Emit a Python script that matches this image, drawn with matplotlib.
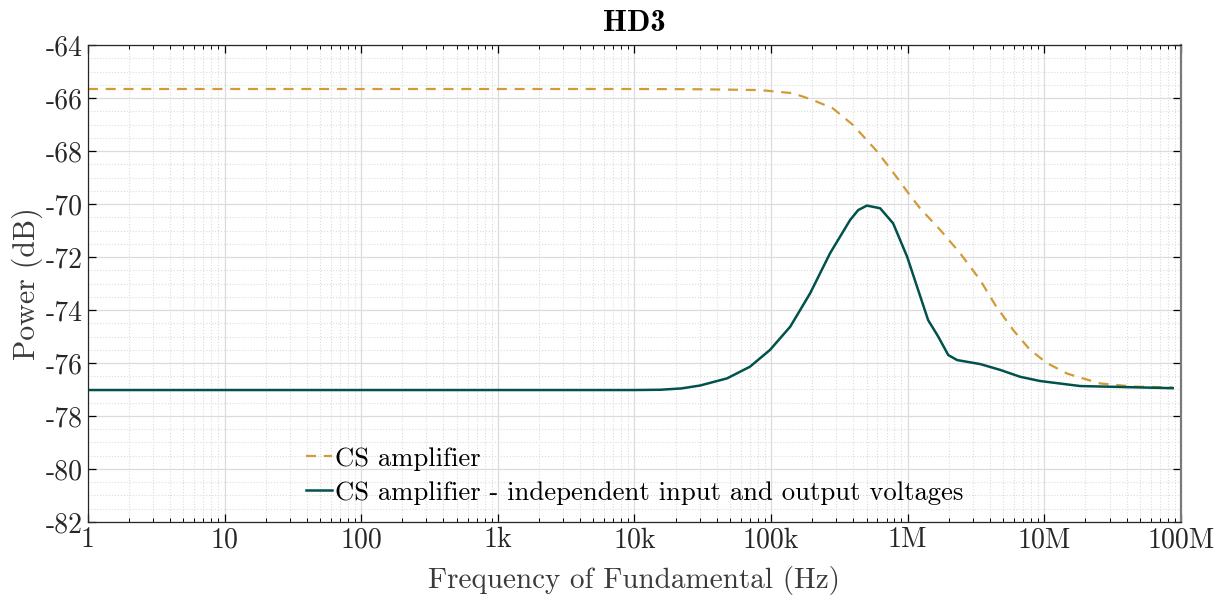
import matplotlib.pyplot as plt
from matplotlib.ticker import LogLocator, MultipleLocator, NullFormatter

plt.rcParams['font.family'] = ['cmr10', 'DejaVu Serif']
plt.rcParams['mathtext.fontset'] = 'cm'
plt.rcParams['axes.unicode_minus'] = False
plt.rcParams['axes.formatter.use_mathtext'] = True

# ==================== Data ====================
freq_cs = [1, 1e4, 3.0e4, 8.3e4, 1.45e5, 2.03e5, 2.83e5, 3.98e5, 6.0e5, 8.8e5, 1.0e6,
           1.23e6, 1.73e6, 2.42e6, 3.39e6, 4.37e6, 5.9e6, 7.87e6, 1.05e7, 1.47e7,
           1.83e7, 2.55e7, 4.46e7, 8.7e7]
hd3_cs = [-65.66, -65.66, -65.67, -65.70, -65.82, -66.08, -66.39, -67.02, -68.03, -69.16, -69.56,
          -70.16, -70.98, -71.86, -72.87, -73.81, -74.75, -75.51, -76.01, -76.40,
          -76.55, -76.77, -76.89, -76.92]

freq_ind = [1, 1e4, 1.54e4, 2.2e4, 3.02e4, 4.76e4, 7.0e4, 9.8e4, 1.38e5, 1.93e5, 2.7e5,
            3.79e5, 4.34e5, 5.02e5, 6.28e5, 7.82e5, 9.9e5, 1.17e6, 1.41e6, 1.67e6,
            1.98e6, 2.30e6, 3.39e6, 4.75e6, 6.65e6, 9.31e6, 1.83e7, 8.7e7]
hd3_ind = [-77.02, -77.02, -77.01, -76.96, -76.85, -76.58, -76.14, -75.51, -74.63, -73.37, -71.86,
           -70.60, -70.23, -70.06, -70.16, -70.73, -71.99, -73.12, -74.38, -75.00,
           -75.70, -75.89, -76.04, -76.26, -76.52, -76.68, -76.87, -76.95]

x_ticks = [1, 10, 100, 1e3, 1e4, 1e5, 1e6, 1e7, 1e8]
x_tick_labels = ['1', '10', '100', '1k', '10k', '100k', '1M', '10M', '100M']
y_ticks = [-82, -80, -78, -76, -74, -72, -70, -68, -66, -64]
y_tick_labels = ['-82', '-80', '-78', '-76', '-74', '-72', '-70', '-68', '-66', '-64']

labels = ['CS amplifier', 'CS amplifier - independent input and output voltages']
colors = ['#D19C38', '#00524B']
# =======================================================================

fig = plt.figure(figsize=(12.27, 6.05), dpi=100)
ax = fig.add_axes([0.0717, 0.1372, 0.8908, 0.7884])

ax.semilogx(freq_cs, hd3_cs, '--', color=colors[0], lw=1.6, dashes=(4.5, 3.5), label=labels[0])
ax.semilogx(freq_ind, hd3_ind, '-', color=colors[1], lw=1.8, label=labels[1])

ax.set_xlim(1, 1e8)
ax.set_ylim(-82, -64)
ax.set_xticks(x_ticks)
ax.set_xticklabels(x_tick_labels)
ax.xaxis.set_minor_locator(LogLocator(base=10, subs=range(2, 10), numticks=100))
ax.xaxis.set_minor_formatter(NullFormatter())
ax.set_yticks(y_ticks)
ax.set_yticklabels(y_tick_labels)
ax.yaxis.set_minor_locator(MultipleLocator(0.5))

ax.tick_params(which='both', direction='in', top=True, right=True, labelsize=20,
               labelcolor='#262626')
ax.tick_params(which='major', length=6, width=0.9)
ax.tick_params(which='minor', length=3, width=0.7)
ax.tick_params(axis='y', which='minor', length=0)

ax.grid(which='major', color='#dcdcdc', lw=0.9, ls='-')
ax.grid(which='minor', color='#dcdcdc', lw=0.8, ls=':')
ax.set_axisbelow(True)

for side in ['left', 'bottom', 'top']:
    ax.spines[side].set_color('#262626')
    ax.spines[side].set_linewidth(0.9)
ax.spines['right'].set_color('#7a7a7a')
ax.spines['right'].set_linewidth(1.6)

ax.set_xlabel('Frequency of Fundamental (Hz)', fontsize=21, color='#3a3a3a', labelpad=9)
ax.set_ylabel('Power (dB)', fontsize=21.5, color='#3a3a3a', labelpad=2)
ax.set_title('HD3', fontsize=22, fontfamily=['cmb10', 'DejaVu Serif'], fontweight='bold', pad=10)

ax.legend(loc='lower left', bbox_to_anchor=(0.19, 0.014), frameon=False, fontsize=19.2,
          handlelength=0.95, handletextpad=0.12, labelspacing=0.38, borderaxespad=0)

fig.savefig('out.png', dpi=100)
